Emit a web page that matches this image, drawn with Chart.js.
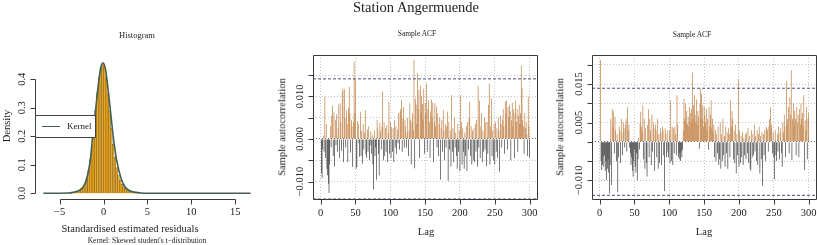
<!DOCTYPE html>
<html>
<head>
<meta charset="utf-8">
<script src="https://cdn.jsdelivr.net/npm/chart.js@4.4.1/dist/chart.umd.min.js"></script>
<style>
body { margin: 0; background: #fff; }
#wrap { position: relative; width: 817px; height: 245px; overflow: hidden; font-family: "Liberation Serif", serif; color: #222; }
#wrap canvas { position: absolute; left: 0; top: 0; }
.t { position: absolute; white-space: nowrap; line-height: 1; transform: translate(-50%, -50%); }
.v { writing-mode: vertical-rl; transform: translate(-50%, -50%) rotate(180deg); }
#legend { position: absolute; left: 35px; top: 115px; width: 61px; height: 23px; box-sizing: border-box; border: 1px solid #444; background: #fff; }
#legend span.ln { position: absolute; left: 6px; top: 10px; width: 18px; border-top: 1.5px solid #46604f; }
#legend span.lb { position: absolute; left: 31px; top: 6px; font-size: 9px; line-height: 1; }
</style>
</head>
<body>
<div id="wrap">
  <canvas id="hist" width="817" height="245"></canvas>
  <canvas id="acf1" width="817" height="245"></canvas>
  <canvas id="acf2" width="817" height="245"></canvas>

  <div class="t" style="left:416px;top:7px;font-size:14.5px">Station Angermuende</div>
  <div class="t" style="left:137px;top:35px;font-size:8.5px">Histogram</div>
  <div class="t" style="left:417px;top:34px;font-size:7.5px">Sample ACF</div>
  <div class="t" style="left:692px;top:35px;font-size:7.5px">Sample ACF</div>

  <div class="t v" style="left:7px;top:126px;font-size:10.5px">Density</div>
  <div class="t" style="left:130px;top:229px;font-size:10.5px">Standardised estimated residuals</div>
  <div class="t" style="left:147px;top:241px;font-size:7.5px">Kernel: Skewed student's t−distribution</div>

  <div class="t v" style="left:283px;top:127px;font-size:10.5px">Sample autocorrelation</div>
  <div class="t" style="left:426px;top:232px;font-size:10.5px">Lag</div>
  <div class="t v" style="left:561px;top:127px;font-size:10.5px">Sample autocorrelation</div>
  <div class="t" style="left:704px;top:232px;font-size:10.5px">Lag</div>

  <div id="legend"><span class="ln"></span><span class="lb">Kernel</span></div>
</div>

<script>
// histogram of standardised residuals (bin width 0.2)
var histMids = [-3.7, -3.5, -3.3, -3.1, -2.9, -2.7, -2.5, -2.3, -2.1, -1.9,
  -1.7, -1.5, -1.3, -1.1, -0.9, -0.7, -0.5, -0.3, -0.1, 0.1,
  0.3, 0.5, 0.7, 0.9, 1.1, 1.3, 1.5, 1.7, 1.9, 2.1,
  2.3, 2.5, 2.7, 2.9, 3.1, 3.3, 3.5, 3.7, 3.9, 4.1, 4.3, 4.5];
var histDensity = [.002, .003, .004, .006, .008, .011, .016, .023, .034, .052,
  .080, .118, .168, .228, .292, .352, .405, .442, .458, .446,
  .408, .352, .290, .228, .172, .126, .090, .064, .045, .032,
  .023, .017, .012, .009, .007, .005, .004, .003, .002, .002, .001, .001];

// kernel curve (skewed student t)
var kernelX = [-6.85, -4, -3.5, -3, -2.5, -2, -1.5, -1.25, -1, -0.75, -0.5, -0.25, 0,
  0.25, 0.5, 0.75, 1, 1.25, 1.5, 2, 2.5, 3, 3.5, 4, 5, 16.75];
var kernelY = [0, .001, .003, .007, .016, .042, .118, .195, .262, .338, .405, .448, .456,
  .430, .370, .300, .228, .165, .115, .052, .020, .009, .004, .002, 0, 0];

var histXTicks = [-5, 0, 5, 10, 15];
var histYTicks = [0, 0.1, 0.2, 0.3, 0.4];

// sample ACF, lags 1..300
var acfLags = Array.from({ length: 300 }, function (_, i) { return i + 1; });
var acfXTicks = [0, 50, 100, 150, 200, 250, 300];

var acf1 = [-.0080, -.0092, -.0025, .0008, -.0030, .0099, -.0045, .0035, -.0070, -.0085,
  -.0105, -.0127, -.0060, .0030, -.0020, .0055, .0078, -.0040, .0062, -.0065,
  .0045, -.0015, .0058, -.0030, .0025, .0081, -.0045, .0084, .0040, -.0028,
  .0112, .0118, -.0055, .0116, .0050, -.0020, .0067, .0035, -.0055, .0073,
  .0123, .0060, -.0032, .0045, .0030, -.0066, .0040, .0181, .0060, .0138,
  -.0070, -.0066, .0042, .0035, -.0010, -.0042, .0064, -.0040, .0020, -.0058,
  .0035, -.0025, .0015, .0068, -.0036, -.0045, .0022, -.0030, .0030, -.0050,
  -.0015, .0018, -.0035, .0010, -.0060, -.0118, .0020, -.0040, -.0020, -.0096,
  .0045, .0025, -.0035, -.0086, .0038, .0018, -.0025, .0030, .0112, -.0050,
  .0040, -.0040, .0025, -.0030, .0032, -.0055, .0015, .0088, -.0035, .0040,
  -.0045, .0028, -.0030, .0025, -.0055, .0045, -.0020, .0030, -.0035, .0022,
  -.0010, .0060, -.0025, .0064, .0070, .0092, -.0030, .0048, .0075, -.0020,
  .0045, .0030, -.0020, .0015, .0050, -.0040, .0020, .0084, .0045, -.0060,
  .0040, .0060, .0020, .0186, -.0069, .0095, .0080, .0035, .0154, .0070,
  .0115, -.0045, .0125, .0060, .0100, .0082, .0045, .0118, -.0035, .0085,
  .0060, .0130, -.0030, .0070, .0090, .0040, -.0045, .0065, .0092, .0050,
  .0085, -.0055, .0040, .0084, .0030, .0076, -.0020, .0060, -.0040, .0035,
  .0050, -.0096, .0025, .0045, -.0030, .0068, .0020, -.0050, .0035, -.0020,
  .0030, .0064, -.0098, .0040, -.0025, .0020, -.0065, .0103, -.0030, .0025,
  -.0055, .0050, -.0020, .0015, -.0040, -.0070, .0035, -.0030, .0020, -.0075,
  .0103, .0040, -.0060, .0025, -.0030, -.0070, .0015, -.0040, .0030, -.0075,
  .0040, -.0025, .0050, .0088, -.0040, .0030, -.0060, .0020, -.0050, .0025,
  -.0055, .0035, -.0030, .0045, -.0065, .0125, -.0020, .0090, -.0045, .0030,
  .0060, -.0055, .0020, -.0030, .0050, -.0025, .0040, -.0065, .0040, -.0035,
  .0080, .0130, -.0060, .0030, .0095, -.0040, .0020, -.0050, .0035, -.0060,
  .0040, -.0030, .0025, -.0045, .0050, .0020, -.0077, .0055, .0035, -.0020,
  .0045, .0070, .0030, -.0035, .0088, .0060, .0091, -.0025, .0075, .0050,
  .0080, .0065, -.0050, .0045, .0085, .0030, .0070, -.0045, .0060, .0090,
  .0040, .0070, -.0030, .0055, .0080, .0035, .0060, .0172, .0120, .0045,
  .0030, -.0035, .0060, .0025, .0040, .0010, -.0040, .0099, .0030, -.0044];

var acf2 = [.0212, -.0050, -.0073, -.0060, -.0040, -.0065, -.0035, -.0075, -.0050, -.0099,
  -.0070, -.0045, -.0080, -.0134, -.0060, .0060, -.0112, .0086, .0040, .0080,
  -.0030, .0065, .0030, -.0050, .0020, -.0131, -.0040, .0040, .0030, -.0055,
  .0060, .0025, -.0035, .0050, .0035, -.0015, .0045, .0060, -.0025, .0090,
  .0030, .0045, -.0015, -.0030, -.0060, -.0040, -.0075, -.0091, -.0050, -.0020,
  -.0065, -.0080, -.0030, -.0100, -.0045, .0010, -.0020, .0050, .0078, .0040,
  .0025, .0095, -.0045, .0060, -.0070, .0035, -.0055, -.0090, .0045, .0085,
  -.0040, .0060, .0030, -.0060, .0070, -.0025, .0050, .0035, -.0075, .0045,
  .0030, -.0040, .0060, -.0070, .0020, -.0055, .0035, .0025, -.0060, .0040,
  .0030, -.0035, -.0128, .0035, .0020, -.0040, .0030, -.0025, -.0040, .0030,
  -.0055, .0108, -.0050, .0040, -.0060, .0035, -.0030, .0040, .0020, -.0035,
  .0121, .0045, -.0040, -.0030, -.0045, -.0050, -.0025, -.0040, -.0020, .0030,
  .0112, .0060, .0100, .0050, .0080, .0045, .0065, .0040, .0090, .0075,
  .0050, .0085, .0180, .0060, .0095, .0121, .0070, .0050, .0110, .0045,
  .0080, .0065, -.0018, .0100, .0138, .0125, .0060, .0095, .0040, .0090,
  .0070, .0050, .0085, .0030, .0060, -.0020, .0090, .0040, .0070, .0108,
  .0035, .0060, .0025, .0045, -.0040, .0030, -.0050, .0020, -.0030, .0040,
  -.0060, -.0045, .0050, -.0070, .0020, -.0050, .0060, -.0035, .0015, -.0065,
  .0040, -.0030, .0025, -.0070, .0035, .0020, -.0040, .0108, .0040, .0080,
  .0060, -.0045, .0030, -.0055, .0045, -.0082, .0020, -.0035, .0162, -.0065,
  .0030, -.0055, .0015, -.0040, .0025, -.0060, .0010, -.0035, .0020, -.0045,
  .0025, -.0030, .0035, -.0055, .0015, -.0070, -.0075, .0030, -.0040, .0020,
  -.0035, .0045, -.0025, .0015, -.0050, .0030, -.0060, .0020, .0040, -.0082,
  .0015, -.0045, .0025, -.0114, .0020, -.0035, .0030, -.0050, .0040, .0035,
  .0030, -.0025, .0040, .0060, .0089, .0035, .0045, -.0030, .0025, -.0040,
  -.0097, .0030, -.0035, -.0050, .0020, -.0025, .0040, -.0045, .0025, .0035,
  -.0030, -.0065, .0050, .0025, .0070, .0040, -.0040, .0158, .0045, .0060,
  .0090, -.0030, .0115, .0070, .0186, -.0048, .0060, .0100, .0045, .0080,
  .0060, -.0035, .0090, .0050, .0070, -.0040, .0085, .0045, .0100, .0060,
  .0075, .0040, .0121, -.0073, .0055, .0030, .0090, -.0045, .0060, .0075];

var acf1Ci = 0.0141, acf2Ci = 0.0139;
var acf1YTicks = [-0.010, -0.005, 0, 0.005, 0.010, 0.015];
var acf1YLabels = [-0.010, 0, 0.010];
var acf2YTicks = [-0.010, -0.005, 0, 0.005, 0.010, 0.015, 0.020];
var acf2YLabels = [-0.010, 0.005, 0.015];
var acfXMin = -11, acfXMax = 312;

var serif = '"Liberation Serif", serif';
function minus(s) { return String(s).replace('-', '\u2212'); }

// R style axes: ticks, labels (y labels turned), box
var rAxes = {
  id: 'rAxes',
  afterDraw: function (chart, args, o) {
    var ctx = chart.ctx, a = chart.chartArea, sx = chart.scales.x, sy = chart.scales.y;
    var xt = sx.ticks.map(function (t) { return t.value; });
    var yt = sy.ticks.map(function (t) { return t.value; });
    var px = function (v) { return Math.round(sx.getPixelForValue(v)) + 0.5; };
    var py = function (v) { return Math.round(sy.getPixelForValue(v)) + 0.5; };
    var xb = Math.round(a.bottom) + 0.5, yl = Math.round(a.left) + 0.5;
    ctx.save();
    ctx.strokeStyle = '#3a3a3a';
    ctx.lineWidth = 1;
    ctx.beginPath();
    if (o.box) {
      ctx.rect(yl, Math.round(a.top) + 0.5, Math.round(a.right) - Math.round(a.left) - 1, Math.round(a.bottom) - Math.round(a.top));
    } else {
      ctx.moveTo(px(xt[0]), xb); ctx.lineTo(px(xt[xt.length - 1]), xb);
      ctx.moveTo(yl, py(yt[0])); ctx.lineTo(yl, py(yt[yt.length - 1]));
    }
    xt.forEach(function (v) { ctx.moveTo(px(v), xb); ctx.lineTo(px(v), xb + 5); });
    yt.forEach(function (v) { ctx.moveTo(yl, py(v)); ctx.lineTo(yl - 5, py(v)); });
    ctx.stroke();

    ctx.fillStyle = '#222';
    ctx.font = '10.5px ' + serif;
    ctx.textAlign = 'center';
    ctx.textBaseline = 'middle';
    xt.forEach(function (v) { ctx.fillText(minus(o.xFmt(v)), sx.getPixelForValue(v), a.bottom + 14); });
    o.yLabels.forEach(function (v) {
      ctx.save();
      ctx.translate(a.left - 12.5, sy.getPixelForValue(v));
      ctx.rotate(-Math.PI / 2);
      ctx.fillText(minus(o.yFmt(v)), 0, 0);
      ctx.restore();
    });
    ctx.restore();
  }
};

function fixTicks(list) {
  return function (s) { s.ticks = list.map(function (v) { return { value: v }; }); };
}

// histogram panel
new Chart(document.getElementById('hist'), {
  type: 'bar',
  data: {
    datasets: [{
      type: 'line',
      data: kernelX.map(function (x, i) { return { x: x, y: kernelY[i] }; }),
      borderColor: '#46604f',
      borderWidth: 1.6,
      pointRadius: 0,
      cubicInterpolationMode: 'monotone',
      order: 1
    }, {
      type: 'bar',
      data: histMids.map(function (x, i) { return { x: x, y: histDensity[i] }; }),
      backgroundColor: '#FFA500',
      borderColor: '#6a6a5a',
      borderWidth: 0.6,
      categoryPercentage: 1,
      barPercentage: 1,
      order: 2
    }]
  },
  options: {
    responsive: false,
    animation: false,
    layout: { padding: { left: 35, right: 558, top: 57, bottom: 46.5 } },
    plugins: {
      legend: { display: false },
      tooltip: { enabled: false },
      rAxes: {
        box: false,
        xFmt: function (v) { return v.toString(); },
        yFmt: function (v) { return v.toFixed(1); },
        yLabels: histYTicks
      }
    },
    scales: {
      x: {
        type: 'linear', min: -7.8, max: 17.7, offset: false,
        afterBuildTicks: fixTicks(histXTicks),
        afterFit: function (s) { s.height = 0; },
        ticks: { display: false },
        grid: { display: false },
        border: { display: false }
      },
      y: {
        min: -0.0184, max: 0.478,
        afterBuildTicks: fixTicks(histYTicks),
        afterFit: function (s) { s.width = 0; },
        ticks: { display: false },
        grid: { display: false },
        border: { display: false }
      }
    }
  },
  plugins: [rAxes]
});

function acfChart(id, values, ci, yMin, yMax, yTicks, yLabels, pad) {
  var ciLine = function (v) {
    return {
      type: 'line',
      data: [{ x: acfXMin, y: v }, { x: acfXMax, y: v }],
      borderColor: '#4b4b7d',
      borderWidth: 1,
      borderDash: [3, 2],
      pointRadius: 0,
      order: 1
    };
  };
  return new Chart(document.getElementById(id), {
    type: 'bar',
    data: {
      datasets: [{
        type: 'bar',
        data: acfLags.map(function (l, i) { return { x: l, y: values[i] }; }),
        backgroundColor: function (c) { return c.raw && c.raw.y >= 0 ? '#bd7838' : '#333333'; },
        categoryPercentage: 1,
        barPercentage: 0.95,
        order: 2
      }, ciLine(ci), ciLine(-ci)]
    },
    options: {
      responsive: false,
      animation: false,
      layout: { padding: pad },
      plugins: {
        legend: { display: false },
        tooltip: { enabled: false },
        rAxes: {
          box: true,
          xFmt: function (v) { return v.toString(); },
          yFmt: function (v) { return v.toFixed(3); },
          yLabels: yLabels
        }
      },
      scales: {
        x: {
          type: 'linear', min: acfXMin, max: acfXMax, offset: false,
          afterBuildTicks: fixTicks(acfXTicks),
          afterFit: function (s) { s.height = 0; },
          ticks: { display: false },
          grid: { color: '#c4c4c4', drawTicks: false, offset: false },
          border: { display: false, dash: [1, 2] }
        },
        y: {
          min: yMin, max: yMax,
          afterBuildTicks: fixTicks(yTicks),
          afterFit: function (s) { s.width = 0; },
          ticks: { display: false },
          grid: {
            color: function (c) { return c.tick && c.tick.value === 0 ? '#6a6a6a' : '#c4c4c4'; },
            drawTicks: false
          },
          border: { display: false, dash: [1, 2] }
        }
      }
    },
    plugins: [rAxes]
  });
}

acfChart('acf1', acf1, acf1Ci, -0.0141, 0.0197, acf1YTicks, acf1YLabels,
  { left: 313, right: 279, top: 55, bottom: 46 });
acfChart('acf2', acf2, acf2Ci, -0.01485, 0.02253, acf2YTicks, acf2YLabels,
  { left: 592, right: 0, top: 55, bottom: 46 });
</script>
</body>
</html>
